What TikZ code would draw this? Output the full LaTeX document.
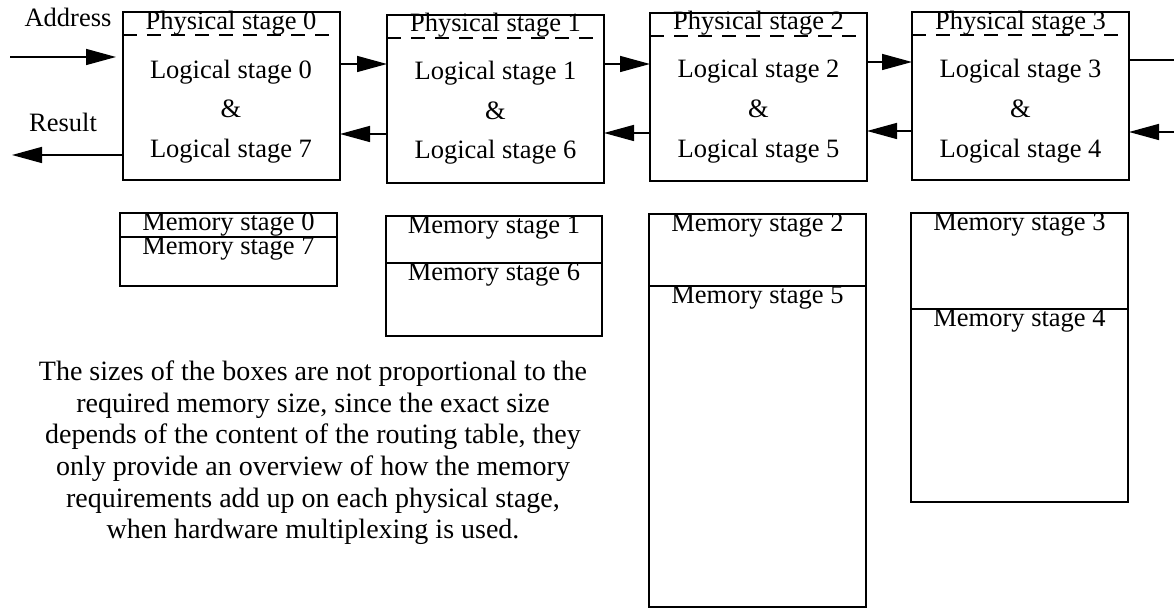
\documentclass[tikz,border=0pt]{standalone}
\usepackage{fontspec}
\setmainfont{Liberation Serif}
\usetikzlibrary{arrows.meta}
\begin{document}
\begin{tikzpicture}[x=0.5pt,y=-0.5pt,
  every node/.style={font=\fontsize{13.25pt}{15.8pt}\selectfont, inner sep=0pt, outer sep=0pt},
  stagebox/.style={draw, line width=0.75pt, minimum width=108.5pt, minimum height=84pt, anchor=north west},
  memline/.style={line width=0.75pt},
  sepline/.style={line width=0.75pt, dash pattern=on 7pt off 5pt},
  link/.style={line width=0.75pt, -{Triangle[length=15pt,width=8pt]}},
  plain/.style={line width=0.75pt},
  lbl/.style={anchor=base}
]
\useasboundingbox (0,0) rectangle (1174,608);

% physical stage boxes
\node[stagebox] (p0) at (123,12) {};
\node[stagebox] (p1) at (387,15) {};
\node[stagebox] (p2) at (650,13) {};
\node[stagebox] (p3) at (912,12) {};

% dashed separators
\draw[sepline] (123,35) -- (339,35);
\draw[sepline] (387,38) -- (604,38);
\draw[sepline] (650,36) -- (867,36);
\draw[sepline] (912,35) -- (1129,35);

% texts in stage boxes
\node[lbl] (ph0) at (231,30) {Physical stage 0};
\node[lbl] (la0) at (231,79) {Logical stage 0};
\node[lbl] (am0) at (231,118) {\&};
\node[lbl] (lb0) at (231,158) {Logical stage 7};

\node[lbl] (ph1) at (495.5,32) {Physical stage 1};
\node[lbl] (la1) at (495.5,80) {Logical stage 1};
\node[lbl] (am1) at (495.5,120) {\&};
\node[lbl] (lb1) at (495.5,159) {Logical stage 6};

\node[lbl] (ph2) at (758.5,30) {Physical stage 2};
\node[lbl] (la2) at (758.5,78) {Logical stage 2};
\node[lbl] (am2) at (758.5,118) {\&};
\node[lbl] (lb2) at (758.5,158) {Logical stage 5};

\node[lbl] (ph3) at (1020.5,30) {Physical stage 3};
\node[lbl] (la3) at (1020.5,78) {Logical stage 3};
\node[lbl] (am3) at (1020.5,118) {\&};
\node[lbl] (lb3) at (1020.5,158) {Logical stage 4};

% outer labels
\node[lbl] (addr) at (68,27) {Address};
\node[lbl] (res) at (63,132) {Result};

% connectors
\coordinate (ain) at (10,57);
\coordinate (rout) at (12,155);
\coordinate (y155) at (0,155);
\coordinate (y64) at (0,64);
\coordinate (y62) at (0,62);
\coordinate (y60) at (0,60);
\coordinate (y134) at (0,134);
\coordinate (y133) at (0,133);
\coordinate (y131) at (0,131);
\coordinate (oout) at (1174,60);
\coordinate (oin) at (1174,132);

\draw[link, shorten >=3.5pt] (ain) -- (ain -| p0.west);
\draw[link] (p0.west |- y155) -- (rout);
\draw[link] (p0.east |- y64) -- (p1.west |- y64);
\draw[link] (p1.west |- y134) -- (p0.east |- y134);
\draw[link] (p1.east |- y64) -- (p2.west |- y64);
\draw[link] (p2.west |- y133) -- (p1.east |- y133);
\draw[link] (p2.east |- y62) -- (p3.west |- y62);
\draw[link] (p3.west |- y131) -- (p2.east |- y131);
\draw[plain] (p3.east |- y60) -- (oout);
\draw[link] (oin) -- (p3.east |- oin);

% memory boxes
\draw[memline] (120,213) rectangle (337,286);
\draw[memline] (120,237) -- (337,237);
\node[lbl] (m0) at (228.5,231) {Memory stage 0};
\node[lbl] (m7) at (228.5,255) {Memory stage 7};

\draw[memline] (386,216) rectangle (602,336);
\draw[memline] (386,263) -- (602,263);
\node[lbl] (m1) at (494,234) {Memory stage 1};
\node[lbl] (m6) at (494,281) {Memory stage 6};

\draw[memline] (649,214) rectangle (866,607);
\draw[memline] (649,286) -- (866,286);
\node[lbl] (m2) at (757.5,232) {Memory stage 2};
\node[lbl] (m5) at (757.5,304) {Memory stage 5};

\draw[memline] (911,213) rectangle (1128,502);
\draw[memline] (911,309) -- (1128,309);
\node[lbl] (m3) at (1019.5,231) {Memory stage 3};
\node[lbl] (m4) at (1019.5,327) {Memory stage 4};

% note
\node[anchor=north, align=center, font=\fontsize{14pt}{15.8pt}\selectfont] (note) at (313,361) {The sizes of the boxes are not proportional to the\\
required memory size, since the exact size\\
depends of the content of the routing table, they\\
only provide an overview of how the memory\\
requirements add up on each physical stage,\\
when hardware multiplexing is used.};
\end{tikzpicture}
\end{document}
